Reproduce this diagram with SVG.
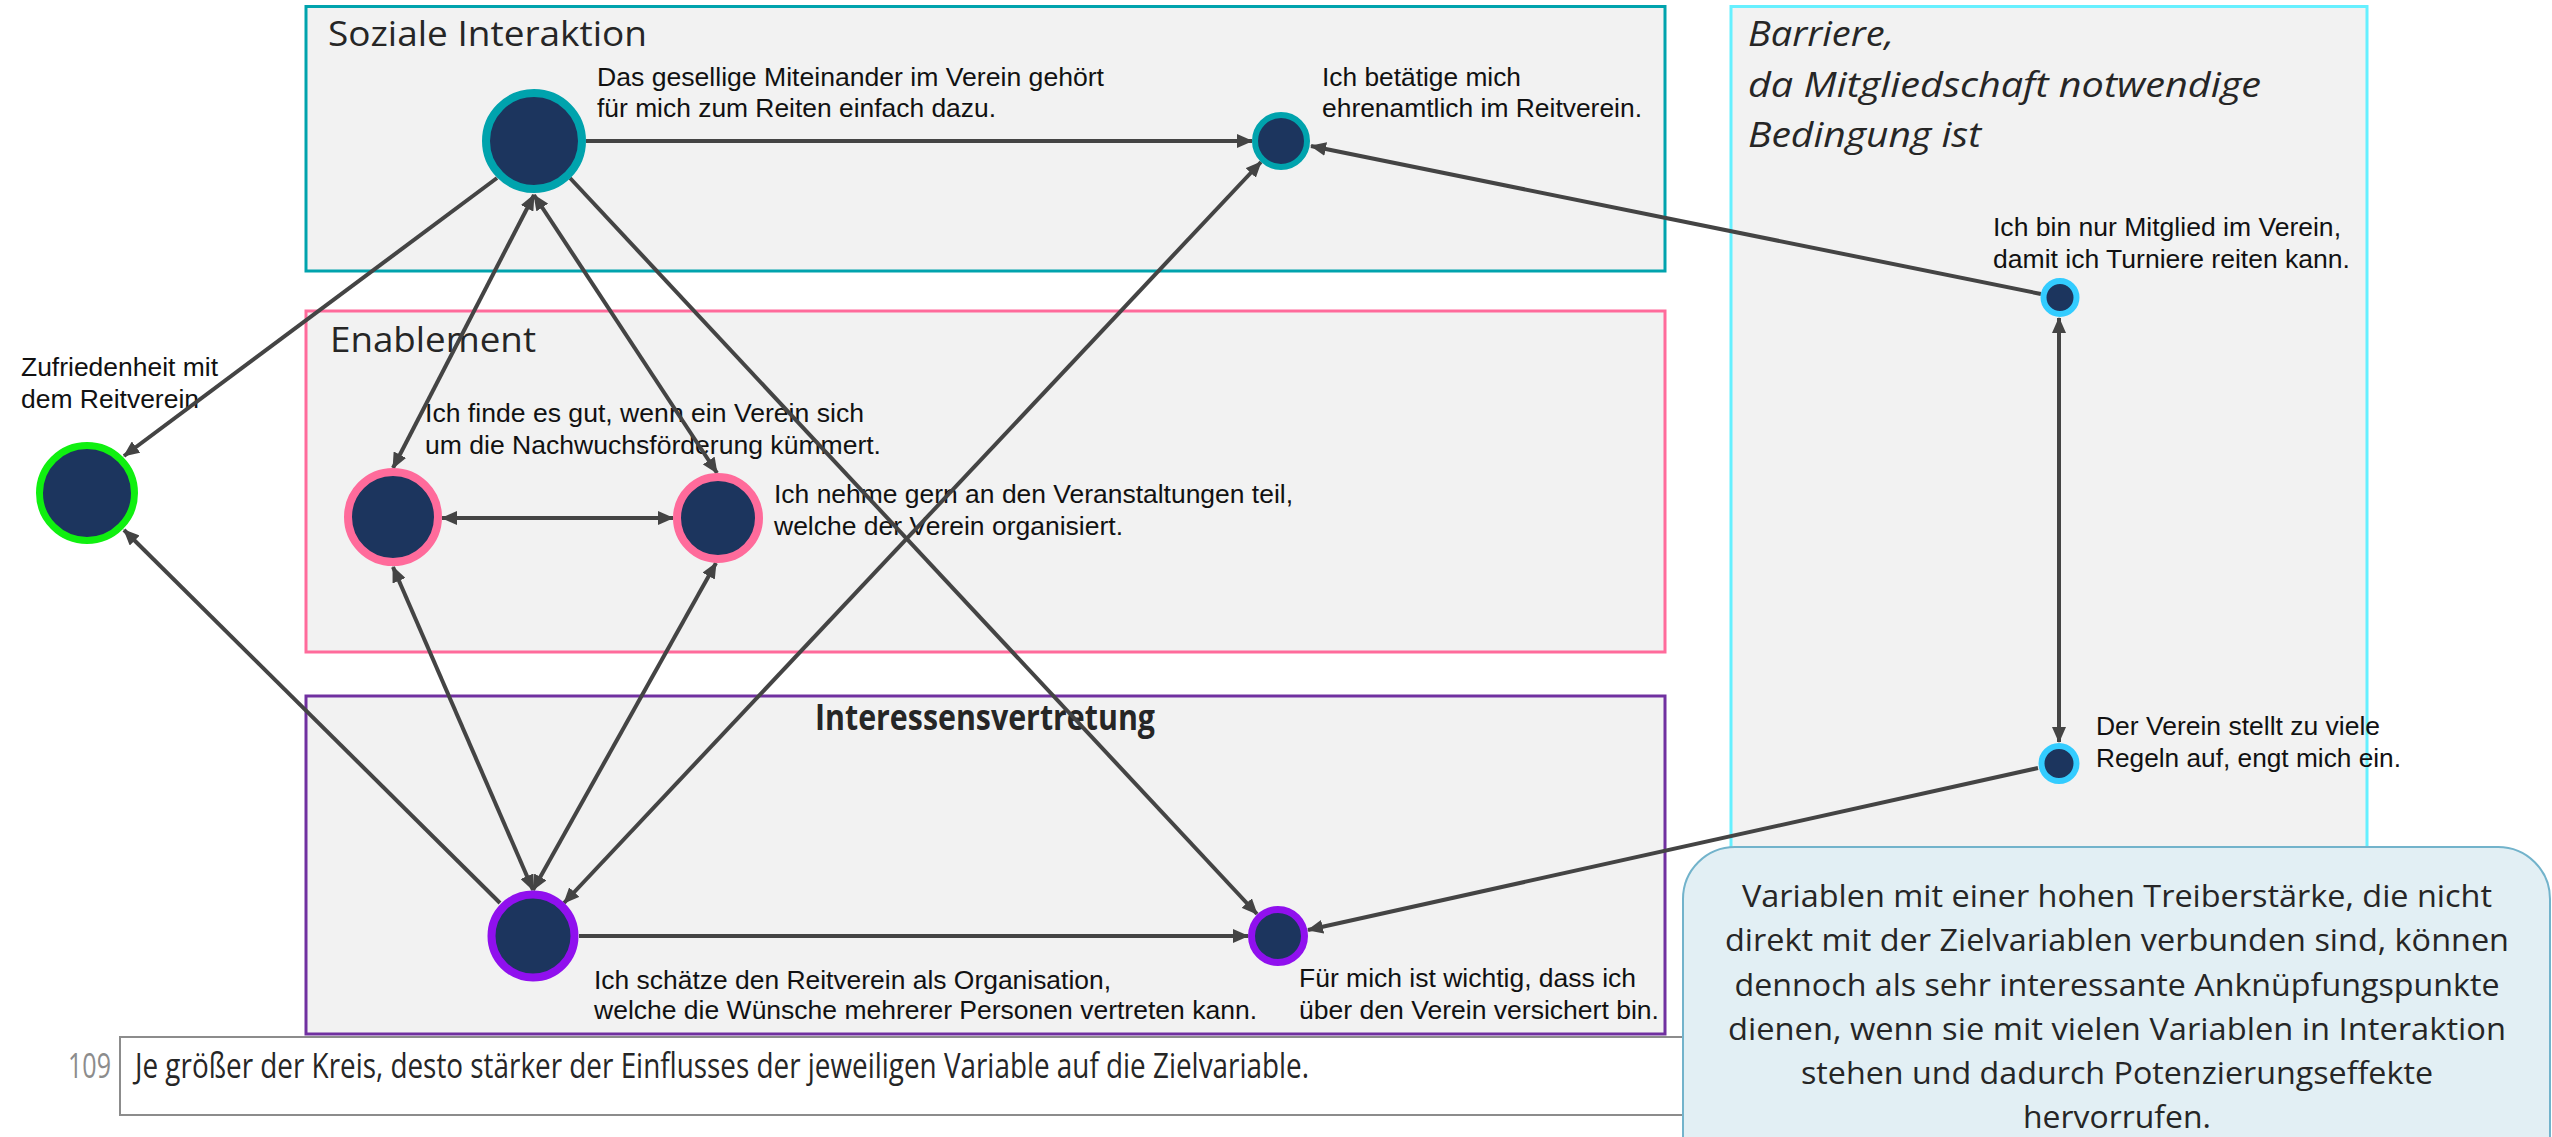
<svg xmlns="http://www.w3.org/2000/svg" width="2552" height="1137" viewBox="0 0 2552 1137">
<style>
.box{fill:#F2F2F2;stroke-width:3}
.title{font-family:"Open Sans","Noto Sans",sans-serif;font-size:35px;fill:#262626}
.lbl{font-family:"Liberation Sans",Arial,sans-serif;font-size:26.5px;fill:#111}
.call{font-family:"Open Sans","Noto Sans",sans-serif;font-size:31px;fill:#262626}
.conn{stroke:#444;stroke-width:4;fill:none}
.node{fill:#1C355E}
</style>
<defs>
<marker id="ah" viewBox="0 0 16 14" refX="15" refY="7" markerWidth="16" markerHeight="14" markerUnits="userSpaceOnUse" orient="auto-start-reverse">
<path d="M0,0 L16,7 L0,14 z" fill="#444"/>
</marker>
</defs>
<rect width="2552" height="1137" fill="#FFFFFF"/>

<g id="groups">
<rect id="box-sozial" class="box" x="306" y="6.5" width="1359" height="264.5" stroke="#00A3AD"/>
<rect id="box-enable" class="box" x="306" y="311" width="1359" height="341" stroke="#FF6B9B"/>
<rect id="box-interessen" class="box" x="306" y="696" width="1359" height="338" stroke="#7030A0"/>
<rect id="box-barriere" class="box" x="1731" y="6.5" width="636" height="900" stroke="#66F0FF" stroke-width="2"/>
<text class="title" x="328" y="46" textLength="319" lengthAdjust="spacingAndGlyphs">Soziale Interaktion</text>
<text class="title" x="330" y="352" textLength="206" lengthAdjust="spacingAndGlyphs">Enablement</text>
<text class="title" x="815" y="730" font-size="30" font-weight="bold" textLength="340" lengthAdjust="spacingAndGlyphs">Interessensvertretung</text>
<text class="title" x="1748" y="46" font-style="italic" textLength="146" lengthAdjust="spacingAndGlyphs">Barriere,</text>
<text class="title" x="1748" y="97" font-style="italic" textLength="513" lengthAdjust="spacingAndGlyphs">da Mitgliedschaft notwendige</text>
<text class="title" x="1748" y="147" font-style="italic" textLength="233" lengthAdjust="spacingAndGlyphs">Bedingung ist</text>
</g>

<g id="footnote">
<rect x="120" y="1037" width="1600" height="78" fill="#FFFFFF" stroke="#8C8C8C" stroke-width="2"/>
<text class="title" x="68" y="1078" font-size="30" fill="#8C8C8C" style="fill:#8C8C8C" textLength="43" lengthAdjust="spacingAndGlyphs">109</text>
<text class="title" x="135" y="1078" font-size="31" textLength="1174" lengthAdjust="spacingAndGlyphs">Je größer der Kreis, desto stärker der Einflusses der jeweiligen Variable auf die Zielvariable.</text>
</g>

<g id="labels">
<text class="lbl" x="21" y="376" textLength="197" lengthAdjust="spacingAndGlyphs">Zufriedenheit mit</text>
<text class="lbl" x="21" y="408" textLength="178" lengthAdjust="spacingAndGlyphs">dem Reitverein</text>
<text class="lbl" x="597" y="86" textLength="507" lengthAdjust="spacingAndGlyphs">Das gesellige Miteinander im Verein gehört</text>
<text class="lbl" x="597" y="117" textLength="399" lengthAdjust="spacingAndGlyphs">für mich zum Reiten einfach dazu.</text>
<text class="lbl" x="1322" y="86" textLength="199" lengthAdjust="spacingAndGlyphs">Ich betätige mich</text>
<text class="lbl" x="1322" y="117" textLength="320" lengthAdjust="spacingAndGlyphs">ehrenamtlich im Reitverein.</text>
<text class="lbl" x="425" y="422" textLength="439" lengthAdjust="spacingAndGlyphs">Ich finde es gut, wenn ein Verein sich</text>
<text class="lbl" x="425" y="454" textLength="456" lengthAdjust="spacingAndGlyphs">um die Nachwuchsförderung kümmert.</text>
<text class="lbl" x="774" y="503" textLength="519" lengthAdjust="spacingAndGlyphs">Ich nehme gern an den Veranstaltungen teil,</text>
<text class="lbl" x="774" y="535" textLength="349" lengthAdjust="spacingAndGlyphs">welche der Verein organisiert.</text>
<text class="lbl" x="594" y="989" textLength="517" lengthAdjust="spacingAndGlyphs">Ich schätze den Reitverein als Organisation,</text>
<text class="lbl" x="594" y="1019" textLength="663" lengthAdjust="spacingAndGlyphs">welche die Wünsche mehrerer Personen vertreten kann.</text>
<text class="lbl" x="1299" y="987" textLength="337" lengthAdjust="spacingAndGlyphs">Für mich ist wichtig, dass ich</text>
<text class="lbl" x="1299" y="1018.5" textLength="360" lengthAdjust="spacingAndGlyphs">über den Verein versichert bin.</text>
<text class="lbl" x="1993" y="236" textLength="348" lengthAdjust="spacingAndGlyphs">Ich bin nur Mitglied im Verein,</text>
<text class="lbl" x="1993" y="268" textLength="357" lengthAdjust="spacingAndGlyphs">damit ich Turniere reiten kann.</text>
<text class="lbl" x="2096" y="735" textLength="284" lengthAdjust="spacingAndGlyphs">Der Verein stellt zu viele</text>
<text class="lbl" x="2096" y="767" textLength="305" lengthAdjust="spacingAndGlyphs">Regeln auf, engt mich ein.</text>
</g>

<g id="connectors">
<path class="conn" d="M586,141 L1252,141" marker-end="url(#ah)"/>
<path class="conn" d="M497,178 L124,456" marker-end="url(#ah)"/>
<path class="conn" d="M534,195 L393,468" marker-start="url(#ah)" marker-end="url(#ah)"/>
<path class="conn" d="M534,195 L717,473" marker-start="url(#ah)" marker-end="url(#ah)"/>
<path class="conn" d="M570,178 L1257,914" marker-end="url(#ah)"/>
<path class="conn" d="M442,518 L673,518" marker-start="url(#ah)" marker-end="url(#ah)"/>
<path class="conn" d="M393,567 L533,890" marker-start="url(#ah)" marker-end="url(#ah)"/>
<path class="conn" d="M716,563 L533,890" marker-start="url(#ah)" marker-end="url(#ah)"/>
<path class="conn" d="M1261,162 L564,903" marker-start="url(#ah)" marker-end="url(#ah)"/>
<path class="conn" d="M500,903 L124,530" marker-end="url(#ah)"/>
<path class="conn" d="M579,936 L1248,936" marker-end="url(#ah)"/>
<path class="conn" d="M2041,294 L1311,146" marker-end="url(#ah)"/>
<path class="conn" d="M2059,318 L2059,742" stroke-width="3.5" marker-start="url(#ah)" marker-end="url(#ah)"/>
<path class="conn" d="M2038,768 L1308,930" marker-end="url(#ah)"/>
</g>

<g id="n-sozial"><circle class="node" cx="534" cy="141" r="48" stroke="#00A3AD" stroke-width="8"/></g>
<g id="n-ehrenamt"><circle class="node" cx="1281" cy="141" r="26" stroke="#00A3AD" stroke-width="6"/></g>
<g id="n-zufriedenheit"><circle class="node" cx="87" cy="493" r="47.5" stroke="#10F010" stroke-width="7"/></g>
<g id="n-nachwuchs"><circle class="node" cx="393" cy="517" r="45" stroke="#FF6B9B" stroke-width="8"/></g>
<g id="n-veranstaltungen"><circle class="node" cx="718" cy="518" r="41" stroke="#FF6B9B" stroke-width="8"/></g>
<g id="n-organisation"><circle class="node" cx="533" cy="936" r="41.5" stroke="#9010EE" stroke-width="8"/></g>
<g id="n-versichert"><circle class="node" cx="1278" cy="936" r="26.5" stroke="#9010EE" stroke-width="7"/></g>
<g id="n-turniere"><circle class="node" cx="2060" cy="297.5" r="16.5" stroke="#33CCFF" stroke-width="6"/></g>
<g id="n-regeln"><circle class="node" cx="2059" cy="763.5" r="17.5" stroke="#33CCFF" stroke-width="6"/></g>

<g id="callout">
<rect x="1683" y="847" width="867" height="360" rx="52" ry="52" fill="#E2EFF4" stroke="#72B3CB" stroke-width="2"/>
<text class="call" x="2117" y="907" text-anchor="middle" textLength="750" lengthAdjust="spacingAndGlyphs">Variablen mit einer hohen Treiberstärke, die nicht</text>
<text class="call" x="2117" y="951" text-anchor="middle" textLength="784" lengthAdjust="spacingAndGlyphs">direkt mit der Zielvariablen verbunden sind, können</text>
<text class="call" x="2117" y="996" text-anchor="middle" textLength="765" lengthAdjust="spacingAndGlyphs">dennoch als sehr interessante Anknüpfungspunkte</text>
<text class="call" x="2117" y="1040" text-anchor="middle" textLength="778" lengthAdjust="spacingAndGlyphs">dienen, wenn sie mit vielen Variablen in Interaktion</text>
<text class="call" x="2117" y="1084" text-anchor="middle" textLength="632" lengthAdjust="spacingAndGlyphs">stehen und dadurch Potenzierungseffekte</text>
<text class="call" x="2117" y="1128" text-anchor="middle" textLength="188" lengthAdjust="spacingAndGlyphs">hervorrufen.</text>
</g>
</svg>
